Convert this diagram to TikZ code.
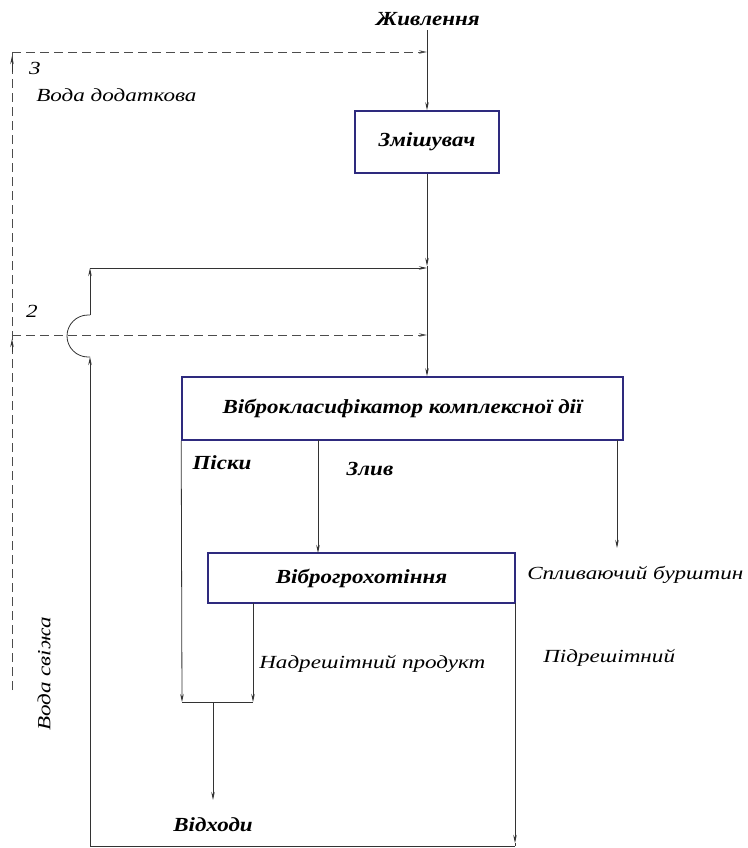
\documentclass[tikz,border=0pt]{standalone}
\usepackage{graphicx}
\usepackage{fontspec}
\setmainfont{Liberation Serif}
\usetikzlibrary{arrows.meta}
\definecolor{boxc}{HTML}{2E2A7E}
\begin{document}
\begin{tikzpicture}[x=1pt,y=-1pt,
  box/.style={draw=boxc, line width=1.6pt, fill=white, inner sep=0pt},
  flow/.style={draw=black!80, line width=0.8pt},
  dflow/.style={draw=black!70, line width=0.8pt, dash pattern=on 9pt off 5pt},
  arr/.style={-{Stealth[length=8pt,width=3.5pt]}},
  lbl/.style={font=\fontsize{18.5}{20}\selectfont\itshape, inner sep=0pt, xscale=1.25},
  blbl/.style={font=\fontsize{20}{22}\selectfont\bfseries\itshape, inner sep=0pt, xscale=1.15},
]
\useasboundingbox (0,0) rectangle (747,848);
% boxes
\node[box, minimum width=144pt, minimum height=62pt] (mix) at (427,142) {};
\node[blbl] at (mix.center) {Змішувач};
\node[box, minimum width=441pt, minimum height=63pt] (cls) at (402.5,408.5) {};
\node[blbl] at (cls.center) {Віброкласифікатор комплексної дії};
\node[box, minimum width=307pt, minimum height=50pt] (scr) at (361.5,578) {};
\node[blbl] at (scr.center) {Віброгрохотіння};
% labels
\node[blbl] (feed) at (428,19) {Живлення};
\node[lbl] (n3) at (35,68) {3};
\node[lbl, anchor=west] (wadd) at (36,95) {Вода додаткова};
\node[lbl] (n2) at (32,311) {2};
\node[rotate=90, inner sep=0pt, font=\fontsize{18.5}{20}\selectfont\itshape] (wfresh) at (44,674) {\scalebox{1.25}[1]{Вода свіжа}};
\node[blbl] (sands) at (222,463) {Піски};
\node[blbl] (over) at (370,469) {Злив};
\node[lbl, anchor=west] (amber) at (527,575) {Спливаючий бурштин};
\node[lbl, anchor=west] (oversize) at (259,664) {Надрешітний продукт};
\node[lbl, anchor=west] (under) at (543,658) {Підрешітний};
\node[blbl] (waste) at (213,825) {Відходи};
% coordinates
\coordinate (ftop) at (427,30);
\coordinate (j3) at (427,52);
\coordinate (r1) at (427,268);
\coordinate (j2) at (427,335);
\coordinate (d3) at (12,52);
\coordinate (d2) at (12,335);
\coordinate (dbot) at (12,690);
\coordinate (rtop) at (90,268);
\coordinate (hoptop) at (90,315);
\coordinate (hopbot) at (90,357);
\coordinate (rbot) at (90,846);
\coordinate (ubot) at (515,846);
\coordinate (sw) at (182,702);
\coordinate (se) at (253,702);
\coordinate (wm) at (213,702);
% main feed line
\draw[flow,arr] (ftop) -- (mix.north);
\draw[flow,arr] (mix.south) -- (427,266);
\draw[flow,arr] (427,266) -- (mix.south |- cls.north);
% dashed water lines
\draw[dflow] (dbot) -- (d3);
\draw[dflow,arr] (d3) -- (j3);
\draw[dflow,arr] (d2) -- (j2);
\draw[flow,arr] (12,72) -- (12,56);
\draw[flow,arr] (12,352) -- (12,339);
% recycle line with hop
\draw[flow,arr] (ubot) -- (rbot) -- (hopbot);
\draw[flow] (hopbot) -- (88,357) arc[start angle=270, end angle=90, radius=21pt] -- (hoptop);
\draw[flow,arr] (hoptop) -- (rtop);
\draw[flow,arr] (rtop) -- (r1);
% classifier outputs
\draw[flow,arr] (cls.south west) -- (sw);
\draw[flow,arr] (318,440) -- (318,553);
\draw[flow,arr] (617,440) -- (617,548);
% screen outputs
\draw[flow,arr] (253,603) -- (se);
\draw[flow] (sw) -- (se);
\draw[flow,arr] (wm) -- (213,800);
\draw[flow,arr] (515,603) -- (515,843);
\draw[flow] (515,843) -- (ubot);
\end{tikzpicture}
\end{document}
